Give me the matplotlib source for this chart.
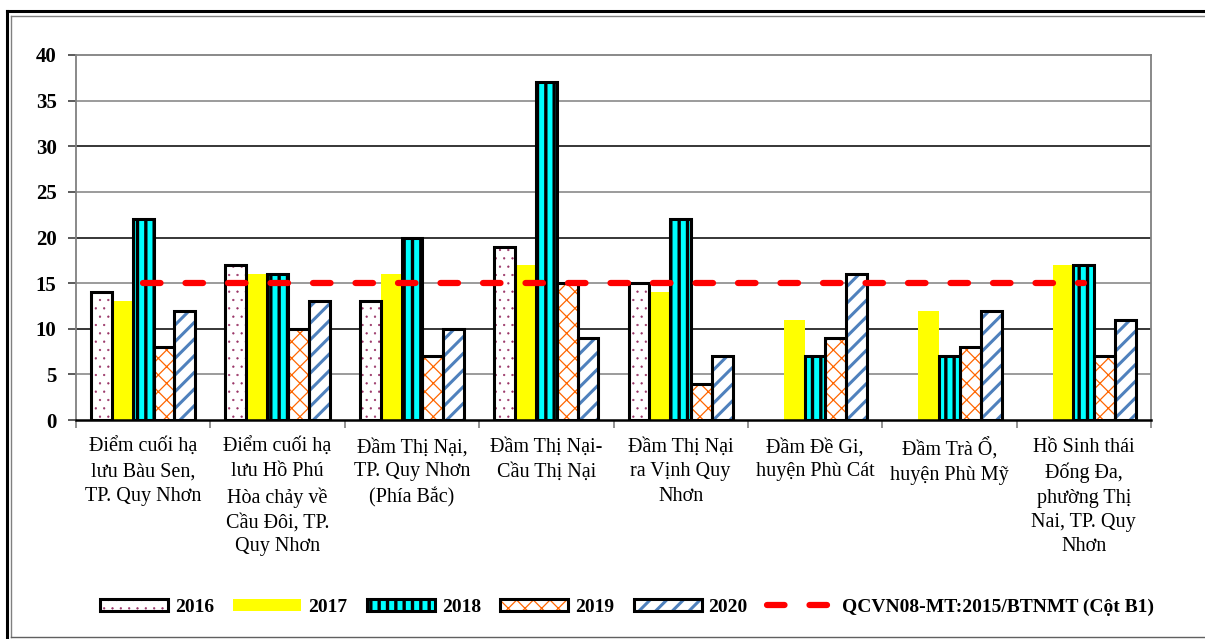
import numpy as np
import matplotlib
matplotlib.use("Agg")
import matplotlib.pyplot as plt
from matplotlib.lines import Line2D
from matplotlib.patches import Rectangle
from matplotlib.legend_handler import HandlerTuple

# ---- data -------------------------------------------------------------
categories = [
    "Điểm cuối hạ\nlưu Bàu Sen,\nTP. Quy Nhơn",
    "Điểm cuối hạ\nlưu Hồ Phú\nHòa chảy về\nCầu Đôi, TP.\nQuy Nhơn",
    "Đầm Thị Nại,\nTP. Quy Nhơn\n(Phía Bắc)",
    "Đầm Thị Nại-\nCầu Thị Nại",
    "Đầm Thị Nại\nra Vịnh Quy\nNhơn",
    "Đầm Đề Gi,\nhuyện Phù Cát",
    "Đầm Trà Ổ,\nhuyện Phù Mỹ",
    "Hồ Sinh thái\nĐống Đa,\nphường Thị\nNai, TP. Quy\nNhơn",
]
years = ["2016", "2017", "2018", "2019", "2020"]
v2016 = [14, 17, 13, 19, 15, np.nan, np.nan, np.nan]
v2017 = [13, 16, 16, 17, 14, 11, 12, 17]
v2018 = [22, 16, 20, 37, 22, 7, 7, 17]
v2019 = [8, 10, 7, 15, 4, 9, 8, 7]
v2020 = [12, 13, 10, 9, 7, 16, 12, 11]
series = [v2016, v2017, v2018, v2019, v2020]

limit_label = "QCVN08-MT:2015/BTNMT (Cột B1)"
limit_value = 15
y_ticks = [0, 5, 10, 15, 20, 25, 30, 35, 40]

# ---- styles -----------------------------------------------------------
plt.rcParams["font.family"] = ["Liberation Serif", "DejaVu Serif"]

styles = [
    dict(face="white", hatch="..", hcolor="#993366", outline=True, hlw=0.4),
    dict(face="#FFFF00", hatch=None, hcolor="#FFFF00", outline=False, hlw=1.0),
    dict(face="#00FFFF", hatch="||", hcolor="black", outline=True, hlw=2.4),
    dict(face="white", hatch="xx", hcolor="#FF6600", outline=True, hlw=0.9),
    dict(face="white", hatch="//", hcolor="#4F81BD", outline=True, hlw=2.2),
]
hatch_lw = {st["hatch"]: st["hlw"] for st in styles if st["hatch"]}

fig = plt.figure(figsize=(12.05, 6.39), dpi=100)
ax = fig.add_axes([76 / 1205, 1 - 420 / 639, 1075 / 1205, 365 / 639])

x = np.arange(len(categories))
bar_w = 0.155
handles = []
for i, (vals, st) in enumerate(zip(series, styles)):
    pos = x + (i - 2) * bar_w
    fill = ax.bar(pos, vals, bar_w, color=st["face"], edgecolor=st["hcolor"],
                  linewidth=0, hatch=st["hatch"], zorder=2)
    for p in fill:
        p.set_hatch_linewidth(st["hlw"])
    if st["outline"]:
        edge = ax.bar(pos, vals, bar_w, fill=False, edgecolor="black",
                      linewidth=2.2, zorder=3)
        handles.append((fill, edge))
    else:
        handles.append(fill)

# regulatory limit line across the stations
lim_kw = dict(color="#FF0000", linewidth=4.5, dashes=(2.8, 4.0),
              dash_capstyle="round", solid_capstyle="round")
ax.plot([x[0], x[-1]], [limit_value, limit_value], zorder=4, **lim_kw)

# horizontal grid: black at multiples of 10, grey in between
for v in y_ticks[1:-1]:
    ax.axhline(v, color="black" if v % 10 == 0 else "#808080",
               linewidth=1.1, zorder=1)

ax.set_xlim(-0.5, len(categories) - 0.5)
ax.set_ylim(0, 40)
ax.set_yticks(y_ticks)
ax.set_yticklabels([str(t) for t in y_ticks], fontsize=15, fontweight="bold")
ax.tick_params(axis="y", direction="out", length=6, width=1.2,
               color="#404040", pad=8)

ax.set_xticks(x)
ax.set_xticklabels(categories, fontsize=14.5, linespacing=1.38)
ax.tick_params(axis="x", which="major", length=0, pad=13)
ax.set_xticks(np.arange(len(categories) + 1) - 0.5, minor=True)
ax.tick_params(axis="x", which="minor", direction="out", length=6,
               width=1.2, color="#808080")

for side in ("left", "top", "right"):
    ax.spines[side].set_color("#808080")
    ax.spines[side].set_linewidth(1.3)
ax.spines["bottom"].set_color("black")
ax.spines["bottom"].set_linewidth(1.8)
ax.spines["bottom"].set_zorder(5)

# legend
lim_handle = Line2D([], [], **lim_kw)
leg = fig.legend(handles + [lim_handle], years + [limit_label],
                 handler_map={tuple: HandlerTuple(ndivide=1, pad=0)},
                 loc="center", bbox_to_anchor=(627 / 1205, 1 - 607 / 639),
                 ncol=6, frameon=False, handlelength=3.5, handleheight=0.6,
                 handletextpad=0.35, columnspacing=1.0,
                 prop={"size": 14, "weight": "bold"})
for r in leg.findobj(Rectangle):
    h = r.get_hatch()
    if h in hatch_lw:
        r.set_hatch_linewidth(hatch_lw[h])

# page frame
def fline(x0, y0, x1, y1, **kw):
    fig.add_artist(Line2D([x0 / 1205, x1 / 1205], [1 - y0 / 639, 1 - y1 / 639],
                          transform=fig.transFigure, **kw))

fline(7, 11, 1205, 11, color="black", linewidth=2.2)
fline(7, 11, 7, 639, color="black", linewidth=2.2)
fline(11, 16, 1205, 16, color="#808080", linewidth=1.0)
fline(11, 16, 11, 637, color="#808080", linewidth=1.0)
fline(11, 637, 1205, 637, color="#606060", linewidth=1.0)

fig.savefig("out.png", dpi=100)
